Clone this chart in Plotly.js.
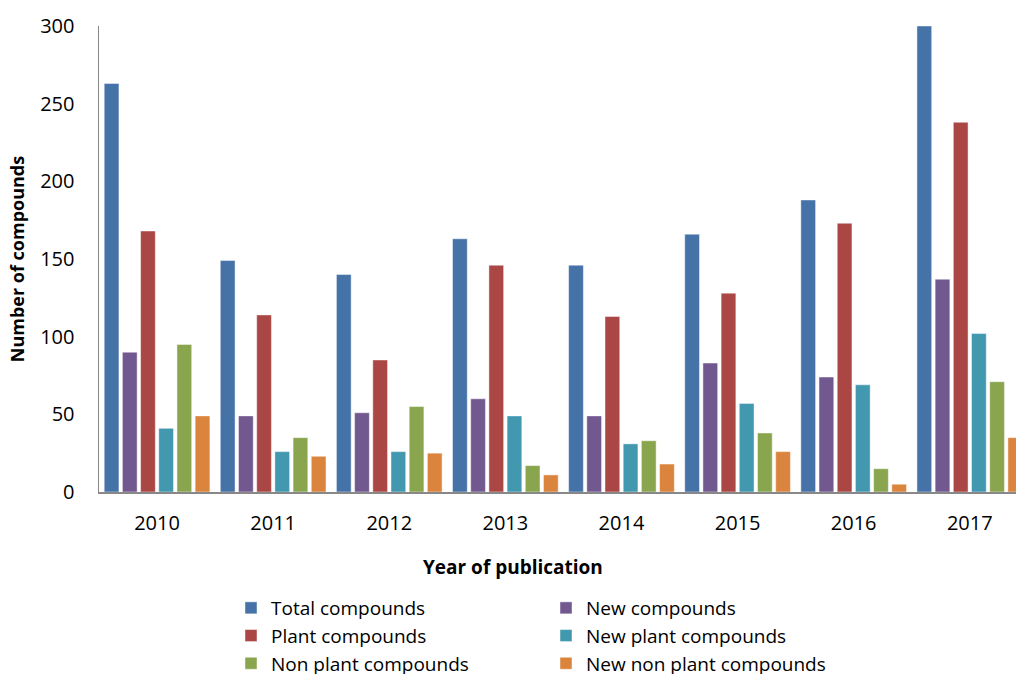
<!DOCTYPE html>
<html>
<head>
<meta charset="utf-8">
<script src="https://cdn.plot.ly/plotly-3.0.1.min.js"></script>
<style>
html,body{margin:0;padding:0;background:#fff;overflow:hidden;}
#chart{width:1016px;height:674px;}
</style>
</head>
<body>
<div id="chart"></div>
<script>
var years = ['2010','2011','2012','2013','2014','2015','2016','2017'];
var totalCompounds      = [263, 149, 140, 163, 146, 166, 188, 300];
var newCompounds        = [90, 49, 51, 60, 49, 83, 74, 137];
var plantCompounds      = [168, 114, 85, 146, 113, 128, 173, 238];
var newPlantCompounds   = [41, 26, 26, 49, 31, 57, 69, 102];
var nonPlantCompounds   = [95, 35, 55, 17, 33, 38, 15, 71];
var newNonPlantCompounds= [49, 23, 25, 11, 18, 26, 5, 35];

var seriesNames = ['Total compounds','New compounds','Plant compounds','New plant compounds','Non plant compounds','New non plant compounds'];
var seriesColors = ['#4572A7','#71588F','#AA4643','#4198AF','#89A54E','#DB843D'];
var seriesLegends = ['legend','legend2','legend','legend2','legend','legend2'];
var seriesValues = [totalCompounds,newCompounds,plantCompounds,newPlantCompounds,nonPlantCompounds,newNonPlantCompounds];

var xIdx = years.map(function(_,i){return i;});
var traces = seriesValues.map(function(vals,i){
  return {
    type:'bar', name:seriesNames[i], x:xIdx, y:vals,
    marker:{color:seriesColors[i], line:{color:'rgba(255,255,255,0.45)', width:1}},
    legend:seriesLegends[i], hoverinfo:'x+y+name'
  };
});

var FONT = 'Open Sans, sans-serif';
var W = 1016, H = 674;
var PL = 99, PW = 917, PT = 26, PH = 466;
var legTop = 589;
var layout = {
  width:W, height:H,
  margin:{l:PL, r:0, t:PT, b:H-PT-PH, pad:0},
  paper_bgcolor:'#fff', plot_bgcolor:'#fff',
  barmode:'group', bargap:0.06, bargroupgap:0.19,
  font:{family:FONT, color:'#000', size:20},
  xaxis:{
    type:'linear', range:[-0.5, 7.398], automargin:false,
    tickmode:'array', tickvals:xIdx, ticktext:years,
    showgrid:false, zeroline:false,
    showline:true, linecolor:'#888', linewidth:1.5,
    ticks:'', ticklabelstandoff:12,
    tickfont:{family:FONT, size:20, color:'#000'}
  },
  yaxis:{
    range:[0,300], tickvals:[0,50,100,150,200,250,300], automargin:false,
    showgrid:false, zeroline:false,
    showline:true, linecolor:'#888', linewidth:1.5,
    ticks:'', ticklabelstandoff:19,
    tickfont:{family:FONT, size:20, color:'#000'},
    title:{text:'Number of compounds', font:{family:FONT, size:18, weight:'bold', color:'#000'}, standoff:11}
  },
  annotations:[{
    text:'Year of publication', xref:'paper', yref:'paper',
    x:(513-PL)/PW, y:-(567-(PT+PH))/PH, xanchor:'center', yanchor:'middle',
    showarrow:false, font:{family:FONT, size:19, weight:'bold', color:'#000'}
  }],
  showlegend:true,
  legend:{
    xref:'paper', yref:'container',
    x:(231-PL)/PW, y:(H-legTop)/H,
    xanchor:'left', yanchor:'top', orientation:'v', tracegroupgap:0,
    bgcolor:'rgba(0,0,0,0)', font:{family:FONT, size:19, color:'#000'}
  },
  legend2:{
    xref:'paper', yref:'container',
    x:(546-PL)/PW, y:(H-legTop)/H,
    xanchor:'left', yanchor:'top', orientation:'v', tracegroupgap:0,
    bgcolor:'rgba(0,0,0,0)', font:{family:FONT, size:19, color:'#000'}
  }
};

Plotly.newPlot('chart', traces, layout, {displayModeBar:false, staticPlot:true});
</script>
</body>
</html>
